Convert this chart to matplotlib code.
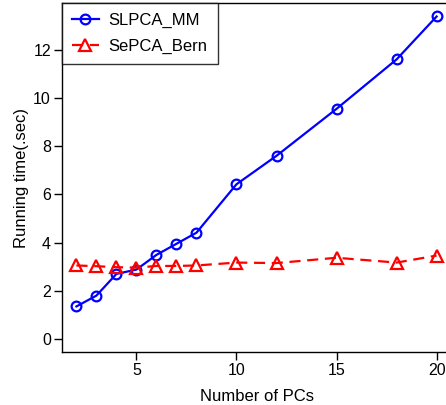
import matplotlib
matplotlib.use('Agg')
import matplotlib.pyplot as plt

plt.rcParams['font.family'] = ['Liberation Sans', 'DejaVu Sans']

n_pcs = [2, 3, 4, 5, 6, 7, 8, 10, 12, 15, 18, 20]
slpca_mm = [1.35, 1.80, 2.70, 2.88, 3.49, 3.95, 4.41, 6.42, 7.60, 9.55, 11.60, 13.38]
sepca_bern = [3.05, 3.02, 2.98, 2.96, 3.03, 3.03, 3.05, 3.17, 3.15, 3.37, 3.17, 3.46]

fig = plt.figure(figsize=(4.46, 4.05), dpi=100)
# axes box in pixels: left 62, right 451, bottom 352, top 3
ax = fig.add_axes([62 / 446, (405 - 352) / 405, (451 - 62) / 446, (352 - 3) / 405])

ax.plot(n_pcs, slpca_mm, color='blue', lw=1.6, marker='o', ms=7,
        mfc='none', mec='blue', mew=1.6, label='SLPCA_MM')
ax.plot(n_pcs, sepca_bern, color='red', lw=1.6, ls=(0, (5, 3)), marker='^', ms=8,
        mfc='none', mec='red', mew=1.6, label='SePCA_Bern')

ax.set_xlim(1.28, 20.72)
ax.set_ylim(-0.54, 13.94)
ax.set_xticks([5, 10, 15, 20])
ax.set_yticks([0, 2, 4, 6, 8, 10, 12])
ax.tick_params(direction='out', length=6, width=1, labelsize=11.5, pad=2)
for s in ax.spines.values():
    s.set_linewidth(1)

ax.set_xlabel('Number of PCs', fontsize=12, labelpad=8)
ax.set_ylabel('Running time(.sec)', fontsize=12, labelpad=3)

leg = ax.legend(loc='upper left', bbox_to_anchor=(0, 1), borderaxespad=0,
                fancybox=False, edgecolor='black', fontsize=12,
                handlelength=1.6, handletextpad=0.6, borderpad=0.6,
                labelspacing=0.65)
leg.get_frame().set_linewidth(1)

fig.savefig('out.png', dpi=100)
